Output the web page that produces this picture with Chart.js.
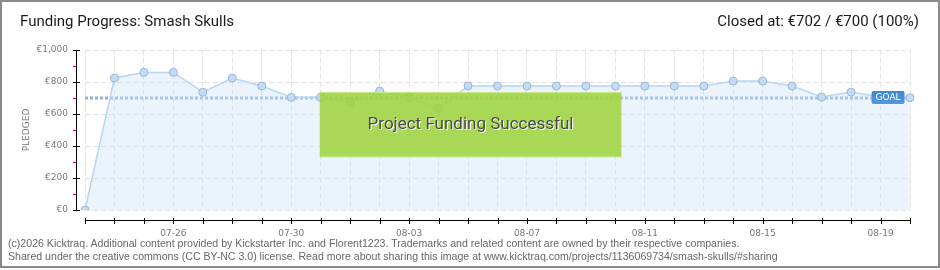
<!DOCTYPE html>
<html>
<head>
<meta charset="utf-8">
<script src="https://cdn.jsdelivr.net/npm/chart.js@4.4.1/dist/chart.umd.min.js"></script>
<style>
  html, body { margin: 0; padding: 0; background: #fff; }
  #wrap { position: relative; width: 940px; height: 270px; overflow: hidden; }
  #frame { position: absolute; left: 0; top: 0; width: 936px; height: 264px; border: 2px solid #8a8a8a; pointer-events: none; }
  canvas { position: absolute; left: 0; top: 0; }
  .title { position: absolute; top: 12px; font: 15px Roboto, sans-serif; color: #1a1a1a; white-space: nowrap; }
  #title { left: 20px; }
  #closed { right: 21px; }
  .foot { position: absolute; left: 8px; font: 10.6px "Liberation Sans", sans-serif; color: #666; white-space: nowrap; }
</style>
</head>
<body>
<div id="wrap">
  <canvas id="chart" width="940" height="270"></canvas>
  <div class="title" id="title">Funding Progress: Smash Skulls</div>
  <div class="title" id="closed">Closed at: €702 / €700 (100%)</div>
  <div class="foot" style="top:237px">(c)2026 Kicktraq. Additional content provided by Kickstarter Inc. and Florent1223. Trademarks and related content are owned by their respective companies.</div>
  <div class="foot" style="top:250px">Shared under the creative commons (CC BY-NC 3.0) license. Read more about sharing this image at www.kicktraq.com/projects/1136069734/smash-skulls/#sharing</div>
  <div id="frame"></div>
</div>
<script>
const days = ['07-23', '07-24', '07-25', '07-26', '07-27', '07-28', '07-29', '07-30', '07-31',
  '08-01', '08-02', '08-03', '08-04', '08-05', '08-06', '08-07', '08-08', '08-09', '08-10',
  '08-11', '08-12', '08-13', '08-14', '08-15', '08-16', '08-17', '08-18', '08-19', '08-20'];
const shownDays = ['07-26', '07-30', '08-03', '08-07', '08-11', '08-15', '08-19'];
const pledged = [0, 825, 860, 860, 736, 825, 775, 704, 704, 673, 744, 704, 637, 775, 775,
  775, 775, 775, 775, 775, 775, 775, 806, 806, 775, 706, 737, 706, 702];
const goal = 700;
const yTicks = [0, 200, 400, 600, 800, 1000];

// axes are drawn a few px away from the plot, kicktraq style
const axesPlugin = {
  id: 'axes',
  afterDraw(chart) {
    const { ctx, chartArea } = chart;
    const xs = chart.scales.x, ys = chart.scales.y;
    const axisY = chartArea.bottom + 10;
    const axisX = chartArea.left - 9;
    ctx.save();
    ctx.strokeStyle = '#000';
    ctx.lineWidth = 1;
    ctx.beginPath();
    ctx.moveTo(chartArea.left, axisY + 0.5);
    ctx.lineTo(chartArea.right + 1, axisY + 0.5);
    days.forEach((d, i) => {
      const px = Math.round(xs.getPixelForValue(i)) + 0.5;
      ctx.moveTo(px, axisY - 2);
      ctx.lineTo(px, axisY + 4);
    });
    ctx.moveTo(axisX + 0.5, ys.getPixelForValue(1000));
    ctx.lineTo(axisX + 0.5, ys.getPixelForValue(0) + 1);
    yTicks.forEach(v => {
      const py = Math.round(ys.getPixelForValue(v)) + 0.5;
      ctx.moveTo(axisX - 3, py);
      ctx.lineTo(axisX + 4, py);
    });
    ctx.stroke();
    ctx.strokeStyle = '#e00';
    ctx.beginPath();
    [100, 300, 500, 700, 900].forEach(v => {
      const py = Math.round(ys.getPixelForValue(v)) + 0.5;
      ctx.moveTo(axisX - 3, py);
      ctx.lineTo(axisX, py);
    });
    ctx.stroke();
    ctx.restore();
  }
};

const goalPlugin = {
  id: 'goal',
  beforeDatasetsDraw(chart) {
    const { ctx, chartArea } = chart;
    const py = Math.round(chart.scales.y.getPixelForValue(goal));
    ctx.save();
    ctx.strokeStyle = '#90b2da';
    ctx.lineWidth = 3;
    ctx.setLineDash([3, 2]);
    ctx.beginPath();
    ctx.moveTo(chartArea.left, py);
    ctx.lineTo(chartArea.right, py);
    ctx.stroke();
    ctx.restore();
  },
  afterDatasetsDraw(chart) {
    const { ctx } = chart;
    const xs = chart.scales.x, ys = chart.scales.y;
    const py = Math.round(ys.getPixelForValue(goal));
    // GOAL tag
    const gx = xs.getPixelForValue(days.length - 2) - 9;
    ctx.save();
    const grad = ctx.createLinearGradient(0, py - 7, 0, py + 7);
    grad.addColorStop(0, '#3b86d6');
    grad.addColorStop(1, '#5a9ad8');
    ctx.fillStyle = grad;
    ctx.beginPath();
    ctx.roundRect(gx, py - 7, 33, 13, 2);
    ctx.fill();
    ctx.fillStyle = '#fff';
    ctx.font = '9px "DejaVu Sans", sans-serif';
    ctx.textAlign = 'center';
    ctx.textBaseline = 'middle';
    ctx.fillText('GOAL', gx + 16.5, py);

    // success banner
    const bx = xs.getPixelForValue(8) - 1, bx2 = xs.getPixelForValue(18) + 6;
    const by = py - 6, by2 = ys.getPixelForValue(330);
    ctx.fillStyle = 'rgba(158,212,62,0.88)';
    ctx.fillRect(bx, by, bx2 - bx, by2 - by);
    ctx.fillStyle = 'rgba(200,235,140,0.9)';
    ctx.fillRect(bx, by, bx2 - bx, 1);
    ctx.fillRect(bx, by2 - 1, bx2 - bx, 1);
    ctx.font = '17px Roboto, sans-serif';
    ctx.fillStyle = '#fff';
    ctx.fillText('Project Funding Successful', (bx + bx2) / 2 + 1, (by + by2) / 2 + 1);
    ctx.fillStyle = '#4a4a4a';
    ctx.fillText('Project Funding Successful', (bx + bx2) / 2, (by + by2) / 2);
    ctx.restore();
  }
};

new Chart(document.getElementById('chart'), {
  type: 'line',
  data: {
    labels: days,
    datasets: [{
      data: pledged,
      borderColor: '#b6d6f4',
      borderWidth: 1.5,
      backgroundColor: 'rgba(205,225,248,0.4)',
      fill: 'origin',
      tension: 0,
      pointRadius: 4,
      pointBackgroundColor: '#c2dcf6',
      pointBorderColor: '#98b6d8',
      pointBorderWidth: 1
    }]
  },
  options: {
    responsive: false,
    animation: false,
    events: [],
    layout: { padding: { top: 50, right: 30, left: 0, bottom: 0 } },
    plugins: { legend: { display: false }, tooltip: { enabled: false } },
    scales: {
      x: {
        type: 'category',
        offset: false,
        afterFit(scale) { scale.height = 60; },
        grid: { color: '#e2e2e2', drawTicks: false, lineWidth: 1 },
        border: { display: false, dash: [5, 3] },
        ticks: {
          autoSkip: false,
          maxRotation: 0,
          padding: 18,
          color: '#777',
          font: { family: 'DejaVu Sans', size: 9 },
          callback(v) { return shownDays.includes(days[v]) ? days[v] : ''; }
        }
      },
      y: {
        min: 0,
        max: 1000,
        afterFit(scale) { scale.width = 85; },
        afterBuildTicks(scale) { scale.ticks = yTicks.map(v => ({ value: v })); },
        grid: { color: '#e2e2e2', drawTicks: false },
        border: { display: false, dash: [5, 3] },
        title: {
          display: true,
          text: 'PLEDGED',
          color: '#777',
          font: { family: 'DejaVu Sans', size: 9 },
          padding: { top: 21, bottom: 0 }
        },
        ticks: {
          padding: 17,
          color: '#777',
          font: { family: 'DejaVu Sans', size: 9 },
          callback(v) { return '€' + v.toLocaleString('en-US'); }
        }
      }
    }
  },
  plugins: [axesPlugin, goalPlugin]
});
</script>
</body>
</html>
